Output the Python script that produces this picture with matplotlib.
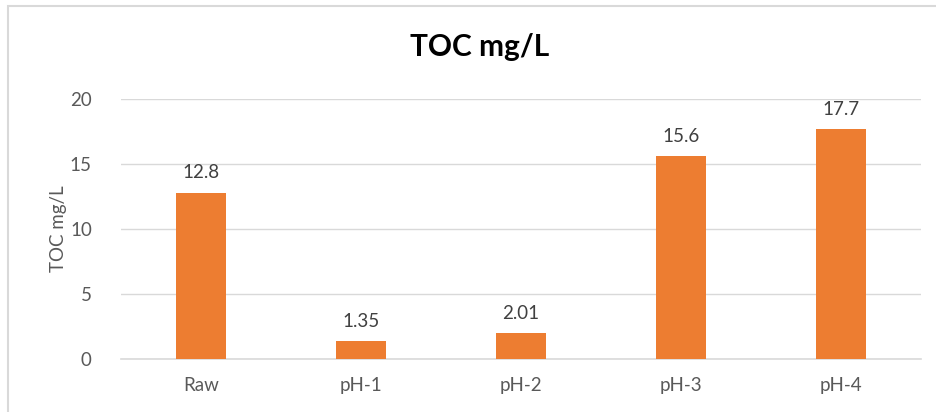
import matplotlib
matplotlib.use("Agg")
import matplotlib.pyplot as plt
from matplotlib.patches import Rectangle

categories = ["Raw", "pH-1", "pH-2", "pH-3", "pH-4"]
toc_values = [12.8, 1.35, 2.01, 15.6, 17.7]
value_labels = ["12.8", "1.35", "2.01", "15.6", "17.7"]
y_ticks = [0, 5, 10, 15, 20]

W, H = 937, 412
fig = plt.figure(figsize=(W / 100, H / 100), dpi=100)
plt.rcParams["font.family"] = ["Lato", "DejaVu Sans"]

# chart-area frame (left and top edges visible)
fig.patches.append(Rectangle((8 / W, -0.1), 1.2, (H - 6) / H + 0.1,
                             transform=fig.transFigure, fill=False,
                             edgecolor="#d9d9d9", linewidth=1.5))

ax = fig.add_axes([121 / W, 1 - 359 / H, 800 / W, 260 / H])
x = range(len(categories))
ax.bar(x, toc_values, width=0.3125, color="#ed7d31", zorder=3)
ax.set_xlim(-0.5, len(categories) - 0.5)
ax.set_ylim(0, 20)
ax.set_yticks(y_ticks)
ax.set_xticks(list(x))
ax.set_xticklabels(categories)
ax.grid(axis="y", color="#d9d9d9", linewidth=1, zorder=0)
for s in ["top", "right", "left"]:
    ax.spines[s].set_visible(False)
ax.spines["bottom"].set_color("#d9d9d9")
ax.spines["bottom"].set_linewidth(1.2)
ax.tick_params(axis="both", length=0, labelsize=13.5, colors="#595959")
ax.tick_params(axis="y", pad=21)
ax.tick_params(axis="x", pad=13)

for xi, v, lab in zip(x, toc_values, value_labels):
    ax.annotate(lab, (xi, v), xytext=(0, 8), textcoords="offset points",
                ha="center", va="bottom", fontsize=13.5, color="#404040")

ax.set_ylabel("TOC mg/L", fontsize=13.5, color="#595959", labelpad=2)
fig.text(480 / W, 1 - 47 / H, "TOC mg/L", ha="center", va="center",
         fontsize=21.5, fontweight="bold", color="black")

fig.savefig("out.png", dpi=100, facecolor="white")
